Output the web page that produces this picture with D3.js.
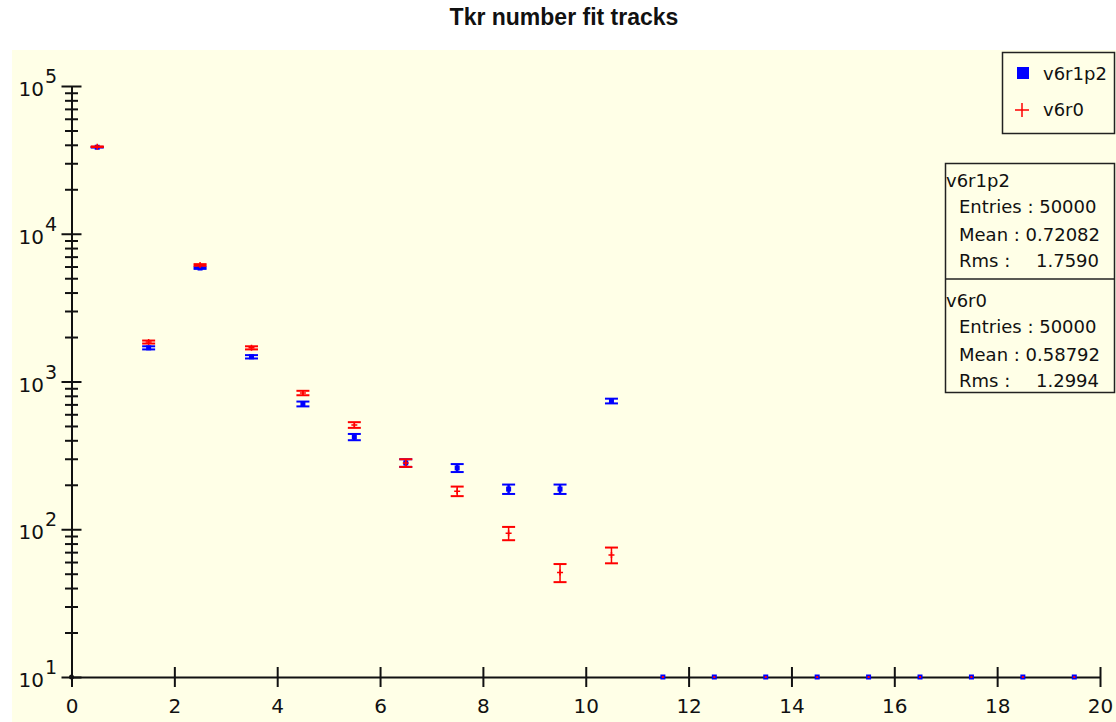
<!DOCTYPE html>
<html>
<head>
<meta charset="utf-8">
<script src="https://cdn.jsdelivr.net/npm/d3@7"></script>
<style>
  body { margin: 0; background: #fff; }
  text { font-family: "DejaVu Sans", sans-serif; fill: #111; }
</style>
</head>
<body>
<svg id="chart" width="1116" height="722"></svg>
<script>

// bin centres (number of fit tracks)
var bins = [0.5, 1.5, 2.5, 3.5, 4.5, 5.5, 6.5, 7.5, 8.5, 9.5,
            10.5, 11.5, 12.5, 13.5, 14.5, 15.5, 16.5, 17.5, 18.5, 19.5];

// entries per bin
var v6r1p2 = [38500, 1690, 5860, 1470, 705, 421, 281, 260, 187, 187,
              738, 0, 0, 0, 0, 0, 0, 0, 0, 0];
var v6r0   = [38800, 1850, 6150, 1690, 836, 508, 281, 181, 94, 51,
              67, 0, 0, 0, 0, 0, 0, 0, 0, 0];

var xTicks = [0, 2, 4, 6, 8, 10, 12, 14, 16, 18, 20];
var yDecades = [1, 2, 3, 4, 5];

var seriesNames = ["v6r1p2", "v6r0"];
var seriesColors = ["#0000ff", "#ff0000"];

var stats1 = ["Entries : 50000", "Mean : 0.72082", "1.7590"];
var stats2 = ["Entries : 50000", "Mean : 0.58792", "1.2994"];

var svg = d3.select("#chart");

// plot background
svg.append("rect")
  .attr("x", 12).attr("y", 50)
  .attr("width", 1104).attr("height", 672)
  .attr("fill", "#ffffe7");

svg.append("text")
  .attr("x", 564).attr("y", 25)
  .attr("text-anchor", "middle")
  .style("font-family", "'Liberation Sans', Arial, sans-serif")
  .style("font-weight", "bold")
  .style("font-size", "23px")
  .text("Tkr number fit tracks");

var x = d3.scaleLinear().domain([0, 20]).range([71.5, 1100]);
var y = d3.scaleLog().domain([10, 100000]).range([677, 86]);

// y axis
var yAxis = svg.append("g")
  .attr("transform", "translate(71.5,0)")
  .call(d3.axisLeft(y).tickValues(y.ticks()).tickSizeOuter(0).tickFormat(""));

yAxis.select(".domain").attr("stroke", "#111").attr("stroke-width", 2);
yAxis.selectAll(".tick line")
  .attr("stroke", "#111").attr("stroke-width", 2)
  .attr("x1", function(d){ return isDecade(d) ? -10 : -6.5; })
  .attr("x2", function(d){ return isDecade(d) ? 10 : 6.5; });

function isDecade(d) {
  var l = Math.log10(d);
  return Math.abs(l - Math.round(l)) < 1e-9;
}

var yLab = svg.append("g");
yDecades.forEach(function(p){
  var ty = y(Math.pow(10, p));
  yLab.append("text")
    .attr("x", 44).attr("y", ty + 10)
    .attr("text-anchor", "end")
    .style("font-size", "20px")
    .text("10");
  yLab.append("text")
    .attr("x", 45).attr("y", ty - 3)
    .style("font-size", "19px")
    .text(p);
});

// x axis
var xAxis = svg.append("g")
  .attr("transform", "translate(0,677)")
  .call(d3.axisBottom(x).tickValues(xTicks).tickSizeOuter(0));

xAxis.select(".domain").attr("stroke", "#111").attr("stroke-width", 2);
xAxis.selectAll(".tick line")
  .attr("stroke", "#111").attr("stroke-width", 2)
  .attr("y1", -10).attr("y2", 10);
xAxis.selectAll(".tick text")
  .attr("y", 36).attr("dy", null)
  .style("font-size", "20px")
  .style("font-family", "'DejaVu Sans', sans-serif")
  .attr("fill", "#111");

svg.append("circle").attr("cx", 71.5).attr("cy", 677).attr("r", 2.5).attr("fill", "#111");

// points with sqrt(N) error bars
function drawSeries(vals, color, kind) {
  var g = svg.append("g").attr("class", "series");
  var pts = bins.map(function(b, i){ return { x: b, n: vals[i] }; });

  var filled = pts.filter(function(p){ return p.n > 0; });
  var empty = pts.filter(function(p){ return p.n <= 0; });
  var lw = kind == "square" ? 2.5 : 1.5;

  g.selectAll(".bar").data(filled).enter().append("line")
    .attr("x1", function(p){ return x(p.x); })
    .attr("x2", function(p){ return x(p.x); })
    .attr("y1", function(p){ return y(p.n - Math.sqrt(p.n)); })
    .attr("y2", function(p){ return y(p.n + Math.sqrt(p.n)); })
    .attr("stroke", color).attr("stroke-width", lw);

  [-1, 1].forEach(function(sgn){
    g.selectAll(".cap" + sgn).data(filled).enter().append("line")
      .attr("x1", function(p){ return x(p.x) - 6.5; })
      .attr("x2", function(p){ return x(p.x) + 6.5; })
      .attr("y1", function(p){ return y(p.n + sgn * Math.sqrt(p.n)); })
      .attr("y2", function(p){ return y(p.n + sgn * Math.sqrt(p.n)); })
      .attr("stroke", color).attr("stroke-width", 2);
  });

  if (kind == "square") {
    g.selectAll(".mk").data(filled).enter().append("rect")
      .attr("x", function(p){ return x(p.x) - 2.5; })
      .attr("y", function(p){ return y(p.n) - 2.5; })
      .attr("width", 5).attr("height", 5)
      .attr("fill", color);
    g.selectAll(".zero").data(empty).enter().append("rect")
      .attr("x", function(p){ return x(p.x) - 2.5; })
      .attr("y", 674.5)
      .attr("width", 5).attr("height", 5)
      .attr("fill", color);
  } else {
    g.selectAll(".mk").data(filled).enter().append("path")
      .attr("d", function(p){
        var cx = x(p.x), cy = y(p.n);
        return "M" + (cx - 3) + "," + cy + "H" + (cx + 3) + "M" + cx + "," + (cy - 3) + "V" + (cy + 3);
      })
      .attr("stroke", color).attr("stroke-width", 1.5);
    g.selectAll(".zero").data(empty).enter().append("rect")
      .attr("x", function(p){ return x(p.x) - 1; })
      .attr("y", 676)
      .attr("width", 2).attr("height", 2)
      .attr("fill", color);
  }
}

drawSeries(v6r1p2, seriesColors[0], "square");
drawSeries(v6r0, seriesColors[1], "cross");

// legend
var leg = svg.append("g");
leg.append("rect")
  .attr("x", 1002.5).attr("y", 52.5).attr("width", 112).attr("height", 81)
  .attr("fill", "none").attr("stroke", "#222").attr("stroke-width", 1.5);
leg.append("rect")
  .attr("x", 1017).attr("y", 67).attr("width", 12).attr("height", 12)
  .attr("fill", seriesColors[0]);
leg.append("path")
  .attr("d", "M1015,110H1029M1022,103V117")
  .attr("stroke", seriesColors[1]).attr("stroke-width", 1.5);
seriesNames.forEach(function(name, i){
  leg.append("text")
    .attr("x", 1043).attr("y", 80 + i * 36)
    .style("font-size", "18px")
    .text(name);
});

// statistics box
var st = svg.append("g");
st.append("rect")
  .attr("x", 945.5).attr("y", 163.5).attr("width", 169).attr("height", 229)
  .attr("fill", "none").attr("stroke", "#222").attr("stroke-width", 1.5);
st.append("line")
  .attr("x1", 945.5).attr("x2", 1114.5).attr("y1", 279).attr("y2", 279)
  .attr("stroke", "#222").attr("stroke-width", 1.5);

[[seriesNames[0], stats1, 187], [seriesNames[1], stats2, 307]].forEach(function(s){
  var top = s[2];
  st.append("text").attr("x", 946).attr("y", top).style("font-size", "18px").text(s[0]);
  st.append("text").attr("x", 959).attr("y", top + 26).style("font-size", "18px").text(s[1][0]);
  st.append("text").attr("x", 959).attr("y", top + 54).style("font-size", "18px").text(s[1][1]);
  st.append("text").attr("x", 959).attr("y", top + 80).style("font-size", "18px").text("Rms :");
  st.append("text").attr("x", 1099).attr("y", top + 80)
    .attr("text-anchor", "end").style("font-size", "18px").text(s[1][2]);
});

</script>
</body>
</html>
